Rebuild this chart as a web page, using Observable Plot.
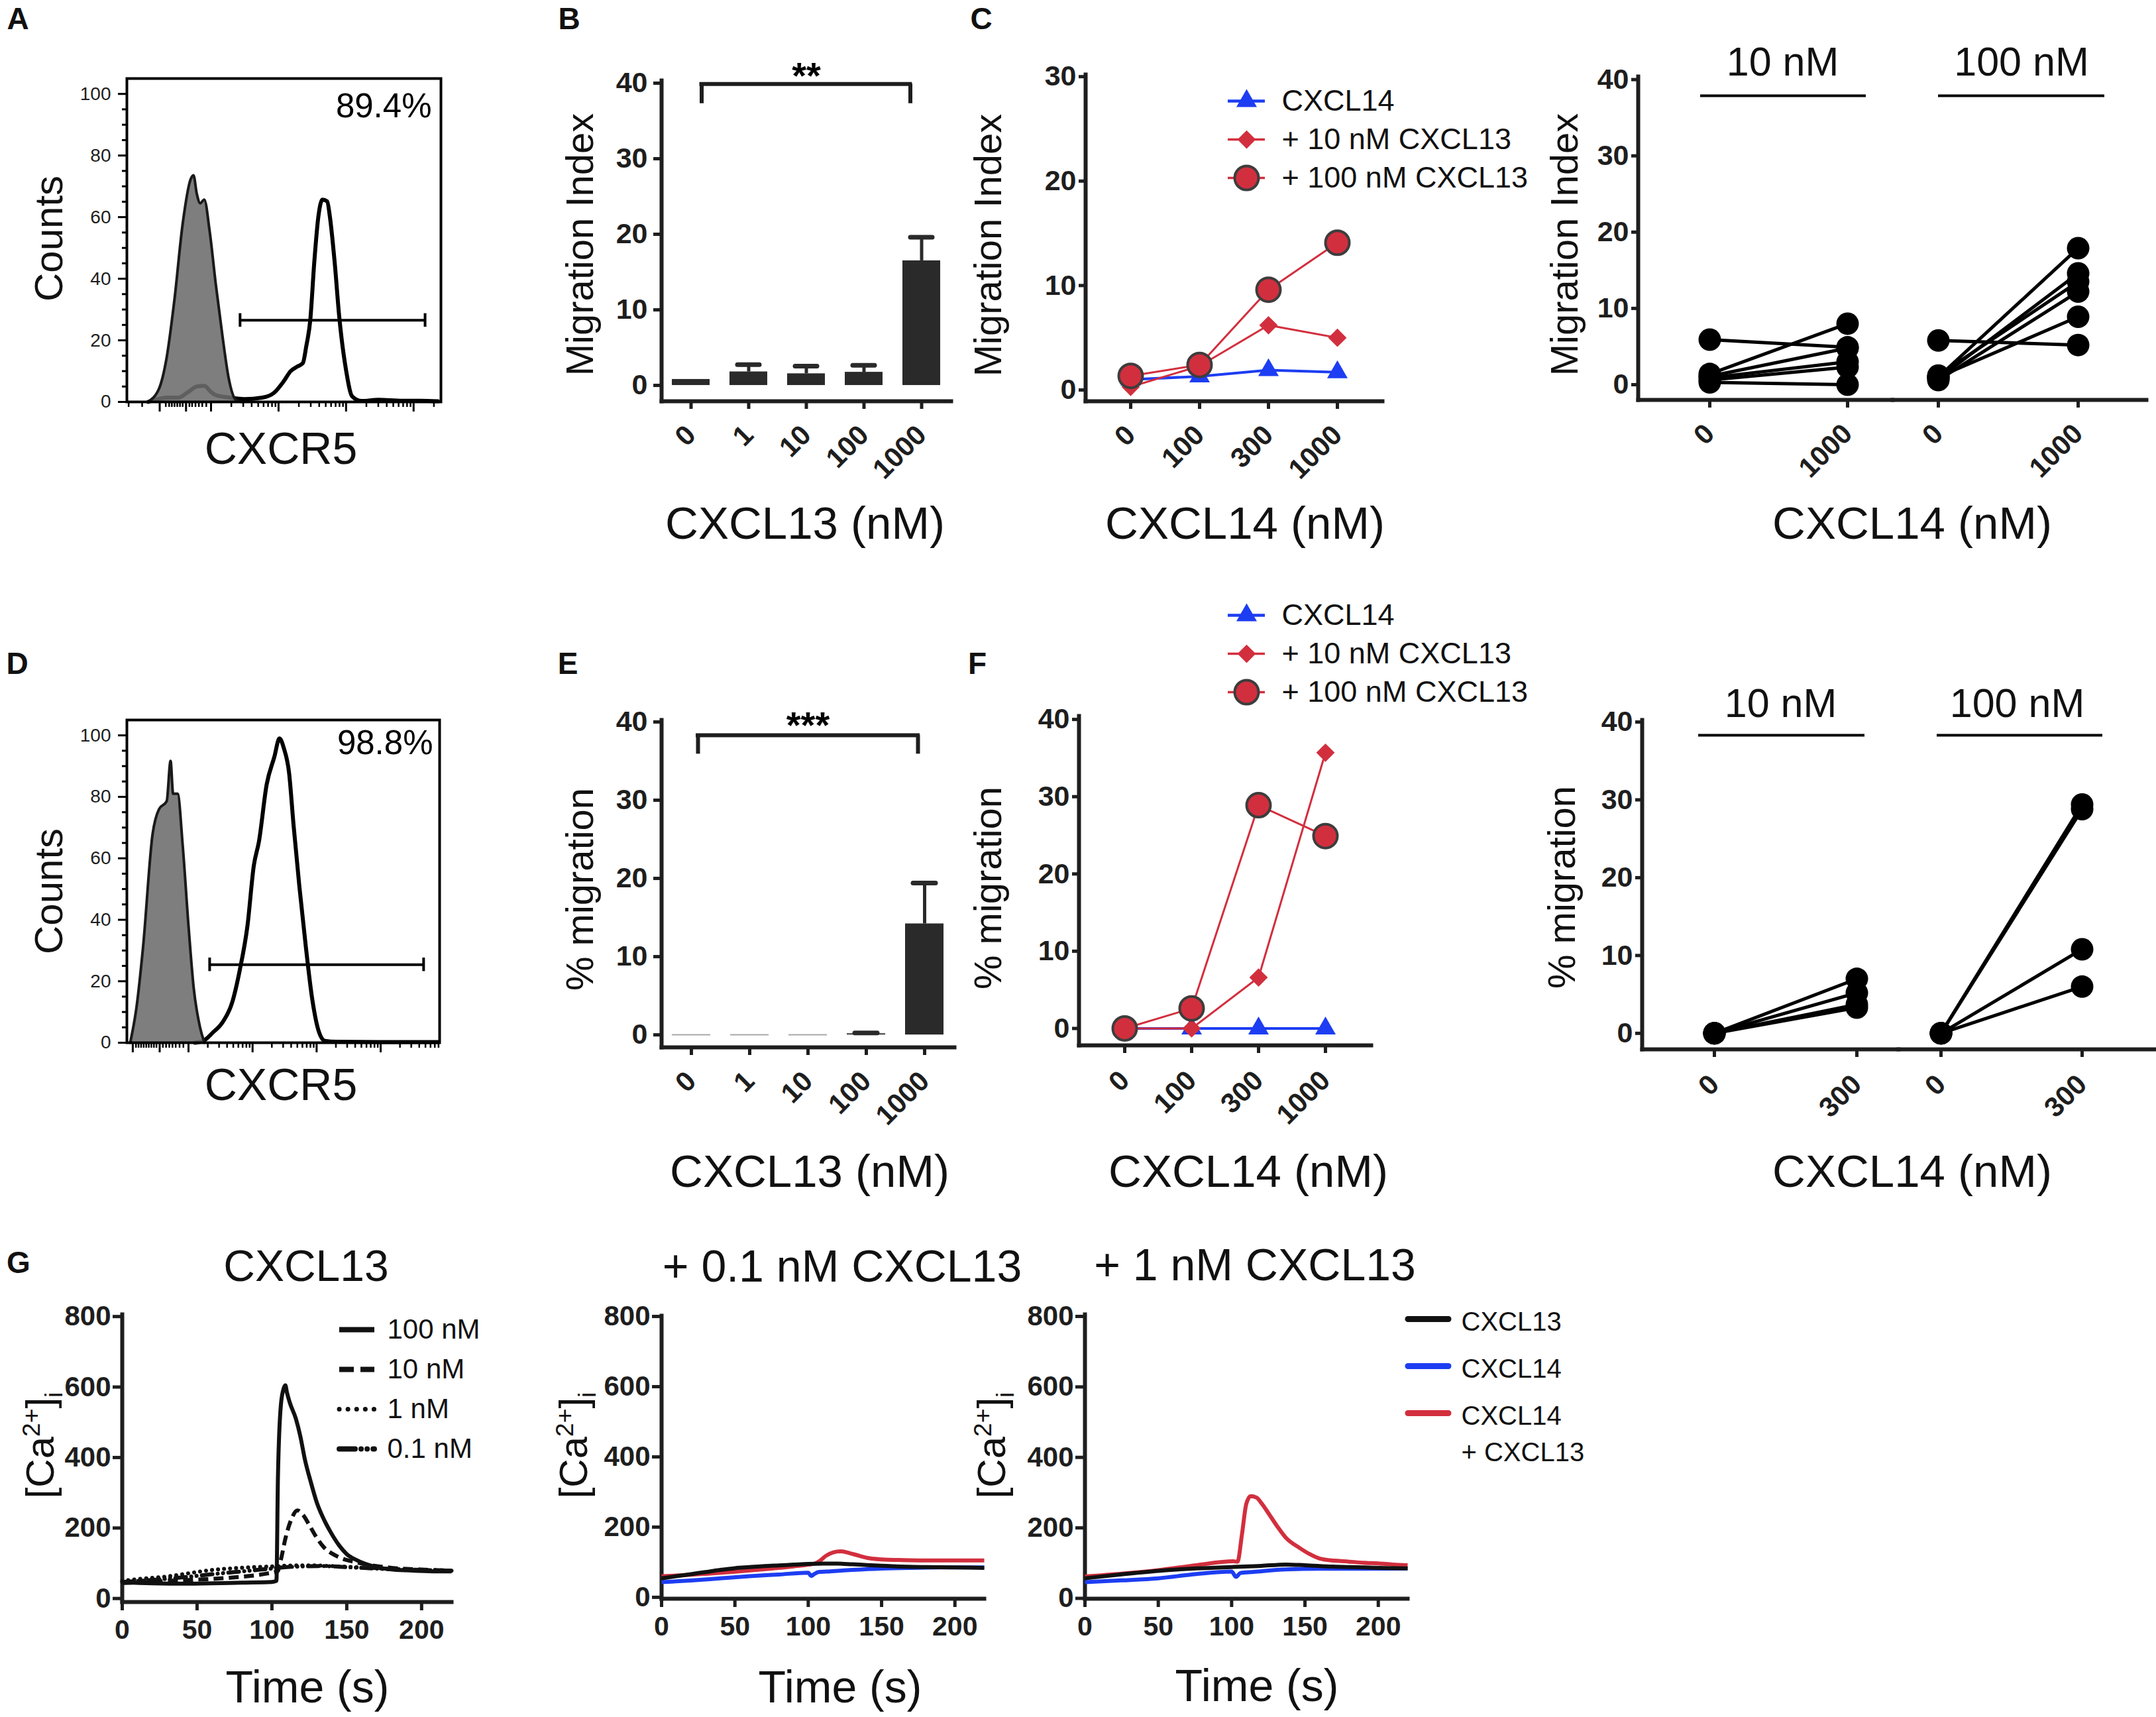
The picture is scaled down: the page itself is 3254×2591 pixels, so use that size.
<!DOCTYPE html>
<html><head><meta charset="utf-8">
<script src="https://cdn.jsdelivr.net/npm/d3@7"></script>
<script src="https://cdn.jsdelivr.net/npm/@observablehq/plot@0.6"></script>
<style>
html,body{margin:0;padding:0;background:#fff;}
#fig{position:relative;width:3254px;height:2591px;background:#fff;overflow:hidden;font-family:"Liberation Sans",Arial,Helvetica,sans-serif;color:#111;}
#fig svg{position:absolute;overflow:visible;}
.lbl{position:absolute;white-space:nowrap;line-height:1;}
.lbl sup,.lbl sub{font-size:0.62em;line-height:0;}
</style></head><body><div id="fig"></div>
<script>
// ================= DATA =================
// A / D : flow histograms (x = log10 fluorescence in decades, y = counts)
const histAIsotype = [[0.06,0],[0.23,4.3],[0.34,14],[0.46,33.5],[0.58,57.8],[0.70,72.4],[0.74,73.6],[0.79,67.5],[0.84,64.5],[0.90,65.7],[0.98,55.4],[1.07,38.3],[1.17,21.3],[1.26,7.9],[1.37,0.6],[1.45,0]];
const histACXCR5 = [[0.07,0],[0.35,1.4],[0.52,1.4],[0.66,3.2],[0.79,5.0],[0.90,5.2],[1.0,3.2],[1.07,2.2],[1.28,1.4],[1.49,0.9],[1.76,1.4],[1.93,2.9],[2.07,6.5],[2.18,10],[2.28,11.5],[2.36,12.6],[2.41,18],[2.47,26.6],[2.53,45.6],[2.59,60.2],[2.65,65.7],[2.72,65.1],[2.76,60.2],[2.83,45.6],[2.90,27.4],[3.0,10.3],[3.09,1.8],[3.23,0.3],[3.48,0.7],[3.83,0.4],[4.1,0.4],[4.36,0.2]];
const gatePctA = "89.4%";
const gateA = {x1: 1.43, x2: 4.17, y: 26.5};
const histDIsotype = [[0.09,0],[0.19,11.8],[0.29,31],[0.44,68],[0.54,76],[0.66,78.6],[0.72,91.7],[0.76,81],[0.83,81],[0.91,64],[1.0,38],[1.08,18],[1.18,5],[1.25,0]];
const histDCXCR5 = [[1.1,0],[1.23,0.6],[1.38,3.3],[1.53,6.6],[1.68,13],[1.80,23.6],[1.92,38],[2.02,57.7],[2.10,65.5],[2.22,84],[2.34,93],[2.42,99],[2.49,95.7],[2.57,87.8],[2.64,70.8],[2.73,51],[2.83,31.5],[2.93,14.4],[3.03,3.9],[3.13,0.6],[3.31,0.3],[4.0,0.2],[4.9,0.2]];
const gatePctD = "98.8%";
const gateD = {x1: 1.33, x2: 4.67, y: 25.4};
const countTicks = [0,20,40,60,80,100];
const countMinorTicks = [5,10,15,25,30,35,45,50,55,65,70,75,85,90,95];
const decadeTicksA = [0.24,0.63,1,2,3,4];
const clusterTicksA = [-0.22,-0.02,0.33,0.38,0.42,0.46,0.5,0.54,0.58,0.68,0.72,0.77,0.82,0.87,0.93];
const decadeTicksD = [0.13,0.55,1,2,3,4];
const clusterTicksD = [0.18,0.22,0.26,0.3,0.34,0.38,0.42,0.46,0.5,0.6,0.65,0.7,0.75,0.8,0.86,0.92];

// B / E : bars
const cxcl13Conc = ["0","1","10","100","1000"];
const migIndexMean = [0.8,1.8,1.55,1.75,16.5];
const migIndexSEM  = [0,0.95,1.0,0.9,3.1];
const sigB = "**";
const pctMigMean = [0,0,0,0.15,14.2];
const pctMigSEM  = [0,0,0,0.1,5.2];
const sigE = "***";

// C / F : dose response
const cxcl14Conc = ["0","100","300","1000"];
const seriesNames = ["CXCL14","+ 10 nM CXCL13","+ 100 nM CXCL13"];
const migC_CXCL14 = [1.0,1.3,1.9,1.7];
const migC_10nM   = [0.3,2.3,6.2,5.0];
const migC_100nM  = [1.35,2.4,9.6,14.1];
const pctF_CXCL14 = [0,0,0,0];
const pctF_10nM   = [0,0,6.6,35.7];
const pctF_100nM  = [0,2.6,28.9,24.9];

// C / F right : paired donors
const groupLabels = ["10 nM","100 nM"];
const pairConcC = ["0","1000"];
const pairsC10  = [[5.9,4.9],[1.4,8.0],[1.1,4.8],[0.9,3.0],[0.6,2.3],[0.3,0.0]];
const pairsC100 = [[5.8,5.2],[1.0,17.9],[0.8,14.6],[1.2,13.5],[0.6,12.2],[1.0,8.9]];
const pairConcF = ["0","300"];
const pairsF10  = [[0,7.0],[0,5.2],[0,3.7],[0,3.3]];
const pairsF100 = [[0,29.4],[0,28.8],[0,10.8],[0,6.0]];

// G : calcium traces [time s, [Ca2+]i]
const caDoses = ["100 nM","10 nM","1 nM","0.1 nM"];
const ca100 = [[0,46],[20,43],[40,42],[60,43],[80,45],[100,47],[103,50],[104,340],[106,550],[108,598],[109,605],[110,585],[112,555],[116,510],[119,460],[122,395],[126,330],[130,272],[135,222],[139,190],[145,150],[150,126],[156,110],[162,99],[170,89],[181,82],[195,79],[210,77],[220,77]];
const ca10  = [[0,44],[20,47],[40,52],[58,55],[80,62],[97,71],[104,78],[106,110],[109,170],[113,225],[117,250],[121,236],[125,208],[130,172],[135,144],[140,128],[145,117],[150,109],[156,103],[165,95],[180,87],[200,82],[220,79]];
const ca1   = [[0,50],[15,57],[29,62],[45,72],[58,80],[75,86],[88,89],[100,91],[110,93],[125,94],[140,92],[155,89],[170,86],[185,83],[200,81],[220,79]];
const ca01  = [[0,47],[15,51],[30,56],[45,62],[60,69],[75,75],[90,81],[100,85],[110,89],[120,91],[135,92],[150,89],[165,86],[180,83],[200,81],[220,79]];
const caSeries = ["CXCL13","CXCL14","CXCL14\n+ CXCL13"];
const mid13   = [[0,54],[10,60],[20,66],[30,72],[40,78],[50,83],[60,86],[70,89],[80,91],[90,93],[100,95],[110,96],[120,96],[130,94],[140,92],[150,90],[160,88],[180,86],[200,85],[220,84]];
const mid14   = [[0,43],[20,48],[40,54],[60,60],[80,65],[100,70],[102,61],[104,66],[107,72],[115,74],[130,78],[150,82],[170,84],[190,85],[220,85]];
const mid1413 = [[0,60],[15,63],[30,67],[50,73],[70,80],[90,88],[100,93],[105,97],[108,104],[112,118],[117,128],[122,131],[128,126],[135,118],[142,111],[150,108],[165,106],[185,105],[200,105],[220,105]];
const right13   = [[0,57],[25,68],[50,78],[76,85],[100,89],[120,92],[137,96],[150,94],[169,90],[190,88],[205,86],[220,85]];
const right14   = [[0,46],[25,51],[50,57],[76,69],[100,76],[103,61],[106,72],[115,75],[137,82],[160,84],[190,84],[220,85]];
const right1413 = [[0,62],[25,70],[50,80],[76,94],[101,105],[104,104],[107,180],[110,268],[113,290],[117,286],[120,272],[126,236],[131,205],[137,172],[146,144],[153,126],[160,113],[170,107],[178,105],[190,101],[200,99],[210,96],[220,94]];
const caTicksY = [0,200,400,600,800];
const timeTicks = [0,50,100,150,200];

// ================= LAYOUT / DRAWING =================
const FONT = '"Liberation Sans", Arial, Helvetica, sans-serif';
const INK = "#1e1e1e";
const RED = "#d22f3e";
const BLUE = "#1d3df2";
const fig = document.getElementById("fig");

function panel(frame, box, opts) {
  const [x0,y0,x1,y1] = frame, [bx0,by0,bx1,by1] = box;
  const svg = Plot.plot({
    width: bx1-bx0, height: by1-by0,
    marginLeft: x0-bx0, marginTop: y0-by0, marginRight: bx1-x1, marginBottom: by1-y1,
    style: {fontFamily: FONT, fontSize: "40px", color: INK, background: "transparent", overflow: "visible"},
    ...opts
  });
  svg.style.position = "absolute"; svg.style.left = bx0 + "px"; svg.style.top = by0 + "px";
  fig.appendChild(svg);
  return svg;
}
function label(html, cx, cy, size, o = {}) {
  const d = document.createElement("div");
  d.className = "lbl"; d.innerHTML = html;
  d.style.left = cx + "px"; d.style.top = cy + "px"; d.style.fontSize = size + "px";
  d.style.fontWeight = o.bold ? "bold" : "normal";
  d.style.transform = "translate(-50%,-50%)" + (o.rotate ? ` rotate(${o.rotate}deg)` : "");
  fig.appendChild(d);
}
const pts = (arr) => arr.map(([x, y]) => ({x, y}));
const logMinor = (lo, hi) => { const t = []; for (let k = 1; k <= 4; k++) for (let m = 2; m <= 9; m++) { const v = k + Math.log10(m); if (v > lo && v < hi) t.push(v); } return t; };

function prismAxes(yTicks, o = {}) {
  return [
    Plot.frame({anchor: "left", stroke: INK, strokeWidth: 6}),
    Plot.frame({anchor: "bottom", stroke: INK, strokeWidth: 6}),
    Plot.axisY({ticks: yTicks, tickSize: o.ySize ?? 12, tickPadding: o.yPad ?? 8, stroke: INK, strokeWidth: 5, fontSize: o.yFont ?? 43, fontWeight: "bold", label: null})
  ];
}
function rotatedX(pad = 32) {
  return Plot.axisX({tickSize: 12, tickRotate: -45, tickPadding: pad, stroke: INK, strokeWidth: 5, fontSize: 42, fontWeight: "bold", label: null});
}

// ---------- A & D histograms ----------
function histPanel(frame, box, xDom, iso, pos, gate, pct, pctD, majors, clusters) {
  const [lo, hi] = xDom;
  panel(frame, box, {
    x: {domain: xDom},
    y: {domain: [0, 105]},
    marks: [
      Plot.lineY(pts(pos), {x: "x", y: "y", stroke: "#000", strokeWidth: 6, curve: "monotone-x"}),
      Plot.areaY(pts(iso), {x: "x", y: "y", fill: "#6c6c6c", fillOpacity: 0.88, curve: "monotone-x"}),
      Plot.lineY(pts(iso), {x: "x", y: "y", stroke: "#1a1a1a", strokeWidth: 4, curve: "monotone-x"}),
      Plot.ruleY([gate], {y: "y", x1: "x1", x2: "x2", stroke: "#000", strokeWidth: 4}),
      Plot.ruleX([gate], {x: "x1", y1: d => d.y - 2.2, y2: d => d.y + 2.2, stroke: "#000", strokeWidth: 4}),
      Plot.ruleX([gate], {x: "x2", y1: d => d.y - 2.2, y2: d => d.y + 2.2, stroke: "#000", strokeWidth: 4}),
      Plot.text([{t: pct}], {text: "t", frameAnchor: "top-right", textAnchor: "end", lineAnchor: "top", dx: pctD[0], dy: pctD[1], fontSize: 51, fill: "#000"}),
      Plot.frame({stroke: "#000", strokeWidth: 4}),
      Plot.axisY({ticks: countTicks, tickSize: 13, tickPadding: 11, fontSize: 28, stroke: "#000", strokeWidth: 3, label: null}),
      Plot.axisY({ticks: countMinorTicks, tickSize: 7, tickFormat: () => "", stroke: "#000", strokeWidth: 3, label: null}),
      Plot.axisX({ticks: majors.filter(v => v > lo && v < hi), tickSize: 15, tickFormat: () => "", stroke: "#000", strokeWidth: 3, label: null}),
      Plot.axisX({ticks: clusters.concat(logMinor(lo, hi)).filter(v => v > lo && v < hi), tickSize: 8, tickFormat: () => "", stroke: "#000", strokeWidth: 2.5, label: null})
    ]
  });
}
histPanel([191,118,665,606], [100,80,700,660], [-0.246, 4.405], histAIsotype, histACXCR5, gateA, gatePctA, [-14, 22], decadeTicksA, clusterTicksA);
histPanel([191,1086,663,1573], [100,1050,700,1630], [0.038, 4.92], histDIsotype, histDCXCR5, gateD, gatePctD, [-10, 15], decadeTicksD, clusterTicksD);

// ---------- B & E bars ----------
function barPanel(frame, box, yDom, means, sems, pi, po, sig, br) {
  const data = cxcl13Conc.map((c, i) => ({c, v: means[i], e: sems[i]}));
  const withErr = data.filter(d => d.e > 0);
  const zero = data.filter(d => d.v === 0);
  const s = {from: cxcl13Conc[0], to: cxcl13Conc[cxcl13Conc.length - 1], level: br.level, foot: br.foot, stars: sig};
  panel(frame, box, {
    x: {type: "band", domain: cxcl13Conc, paddingInner: pi, paddingOuter: po},
    y: {domain: yDom},
    marks: [
      Plot.barY(data.filter(d => d.v > 0), {x: "c", y1: 0, y2: "v", fill: "#2a2a2a"}),
      Plot.tickY(zero, {x: "c", y: "v", stroke: "#a8a8a8", strokeWidth: 2}),
      Plot.ruleX(withErr, {x: "c", y1: "v", y2: d => d.v + d.e, stroke: "#2a2a2a", strokeWidth: 5}),
      Plot.tickY(withErr, {x: "c", y: d => d.v + d.e, stroke: "#2a2a2a", strokeWidth: 7, insetLeft: 12, insetRight: 12, strokeLinecap: "round"}),
      Plot.ruleY([s], {y: "level", x1: "from", x2: "to", stroke: INK, strokeWidth: 6, insetLeft: br.il, insetRight: br.ir, strokeLinecap: "square"}),
      Plot.ruleX([s], {x: "from", y1: "foot", y2: "level", stroke: INK, strokeWidth: 6, dx: br.dl}),
      Plot.ruleX([s], {x: "to", y1: "foot", y2: "level", stroke: INK, strokeWidth: 6, dx: br.dr}),
      Plot.text([s], {text: "stars", frameAnchor: "top", lineAnchor: "bottom", dy: br.tdy, fontSize: 56, fontWeight: "bold", fill: "#000"}),
      ...prismAxes([0,10,20,30,40], {ySize: 12, yPad: 9}),
      rotatedX(32)
    ]
  });
}
barPanel([998,121,1435,605], [880,40,1480,740], [-2.1, 40.35], migIndexMean, migIndexSEM, 0.35, 0.164, sigB,
  {level: 39.9, foot: 37.3, il: 44.5, ir: 45.7, dl: 16, dr: -17, tdy: 11});
barPanel([998,1086,1440,1580], [880,1030,1480,1720], [-1.6, 40.25], pctMigMean, pctMigSEM, 0.34, 0.181, sigE,
  {level: 38.3, foot: 35.9, il: 39, ir: 39, dl: 10, dr: -10, tdy: 26});

// ---------- C & F dose response ----------
const symStyle = [
  {name: seriesNames[0], color: BLUE, symbol: "triangle", r: 11.5, lw: 4},
  {name: seriesNames[1], color: RED, symbol: "diamond2", r: 12.5, lw: 3},
  {name: seriesNames[2], color: RED, symbol: "circle", r: 18, lw: 3, stroke: "#3d3d3d", sw: 4}
];
function dosePanel(frame, box, yDom, yTicks, pad, series, tpad) {
  const rows = series.map(vals => cxcl14Conc.map((c, i) => ({c, v: vals[i]})));
  panel(frame, box, {
    x: {type: "point", domain: cxcl14Conc, padding: pad},
    y: {domain: yDom},
    marks: [
      ...prismAxes(yTicks, {ySize: 10, yPad: 4}),
      rotatedX(tpad),
      ...rows.map((r, k) => Plot.line(r, {x: "c", y: "v", stroke: symStyle[k].color, strokeWidth: symStyle[k].lw})),
      ...rows.map((r, k) => Plot.dot(r, {x: "c", y: "v", symbol: symStyle[k].symbol, r: symStyle[k].r, fill: symStyle[k].color,
        stroke: symStyle[k].stroke ?? "none", strokeWidth: symStyle[k].sw ?? 0}))
    ]
  });
}
dosePanel([1638,112,2086,605], [1540,40,2100,740], [-1.08, 30.2], [0,10,20,30], 0.647, [migC_CXCL14, migC_10nM, migC_100nM], 32);
dosePanel([1628,1080,2069,1577], [1530,1000,2090,1720], [-2.19, 40.44], [0,10,20,30,40], 0.683, [pctF_CXCL14, pctF_10nM, pctF_100nM], 34);

function legendSym(frame, box) {
  panel(frame, box, {
    y: {type: "point", domain: seriesNames, padding: 0, axis: null},
    marks: [
      ...symStyle.map(s => Plot.tickY([s], {y: "name", stroke: s.color, strokeWidth: s.lw + 0.5})),
      ...symStyle.map(s => Plot.dot([s], {y: "name", symbol: s.symbol, r: s.r, fill: s.color, stroke: s.stroke ?? "none", strokeWidth: s.sw ?? 0})),
      Plot.text(symStyle, {y: "name", text: "name", frameAnchor: "right", textAnchor: "start", dx: 25, fontSize: 45, fill: "#111"})
    ]
  });
}
legendSym([1853,151,1909,268], [1820,110,2400,310]);
legendSym([1853,927.5,1909,1044], [1820,885,2400,1085]);

// ---------- C & F right : paired donors ----------
function pairPanel(frame, box, yDom, concs, pairs, grp, o) {
  const rows = pairs.flatMap((p, i) => [{d: i, c: concs[0], v: p[0]}, {d: i, c: concs[1], v: p[1]}]);
  const ul = {from: concs[0], to: concs[1], top: yDom[1], label: grp};
  panel(frame, box, {
    x: {type: "point", domain: concs, padding: 0, insetLeft: o.ins[0], insetRight: o.ins[1]},
    y: {domain: yDom, axis: o.yAxis ? undefined : null},
    marks: [
      ...(o.yAxis ? prismAxes([0,10,20,30,40], {ySize: 10, yPad: 4}) : [Plot.frame({anchor: "bottom", stroke: INK, strokeWidth: 6})]),
      rotatedX(o.tpad),
      Plot.line(rows, {x: "c", y: "v", z: "d", stroke: "#000", strokeWidth: 5}),
      Plot.dot(rows, {x: "c", y: "v", r: 17, fill: "#000"}),
      Plot.ruleY([ul], {y: "top", x1: "from", x2: "to", dy: o.ulDy, insetLeft: o.ulIns[0], insetRight: o.ulIns[1], stroke: "#000", strokeWidth: 4}),
      Plot.text([ul], {text: "label", frameAnchor: "top", lineAnchor: "middle", dx: o.ldx, dy: o.ldy, fontSize: 61, fill: "#111"})
    ]
  });
}
pairPanel([2472,115,2856,603], [2380,30,2856,740], [-2.0, 40.4], pairConcC, pairsC10, groupLabels[0],
  {yAxis: true, ins: [108, 68], ulDy: 29, ulIns: [-14, -28], ldx: 26, ldy: -21.5, tpad: 32});
pairPanel([2856,115,3239,603], [2856,30,3254,740], [-2.0, 40.4], pairConcC, pairsC100, groupLabels[1],
  {yAxis: false, ins: [69, 103], ulDy: 29, ulIns: [0, -40], ldx: 3, ldy: -21.5, tpad: 32});
pairPanel([2478,1086,2865,1583], [2380,1000,2865,1720], [-2.06, 40.26], pairConcF, pairsF10, groupLabels[0],
  {yAxis: true, ins: [109, 63], ulDy: 23, ulIns: [-24, -12], ldx: 15.5, ldy: -24.5, tpad: 34});
pairPanel([2865,1086,3251,1583], [2865,1000,3254,1720], [-2.06, 40.26], pairConcF, pairsF100, groupLabels[1],
  {yAxis: false, ins: [64, 109], ulDy: 23, ulIns: [-6, -31], ldx: -14, ldy: -24.5, tpad: 34});

// ---------- G calcium ----------
const tv = (arr) => arr.map(([t, v]) => ({t, v}));
function caPanel(frame, box, yDom, lines) {
  panel(frame, box, {
    x: {domain: [0, 220]},
    y: {domain: yDom},
    marks: [
      Plot.frame({anchor: "left", stroke: INK, strokeWidth: 6}),
      Plot.frame({anchor: "bottom", stroke: INK, strokeWidth: 6}),
      Plot.axisY({ticks: caTicksY, tickSize: 14, tickPadding: 3, stroke: INK, strokeWidth: 5, fontSize: 42, fontWeight: "bold", label: null}),
      Plot.axisX({ticks: timeTicks, tickSize: 13, tickPadding: 13, stroke: INK, strokeWidth: 5, fontSize: 41, fontWeight: "bold", label: null}),
      ...lines.map(l => Plot.line(tv(l.data), {x: "t", y: "v", stroke: l.color, strokeWidth: l.w ?? 6, strokeDasharray: l.dash, strokeLinecap: l.cap ?? "butt", curve: "monotone-x"}))
    ]
  });
}
const doseStyle = [
  {color: "#111", dash: null, w: 6, lw: 8, ldash: null, cap: "butt"},
  {color: "#111", dash: "15,8", w: 6, lw: 8, ldash: "22,10", cap: "butt"},
  {color: "#111", dash: "0.1,9", w: 6, lw: 7, ldash: "0.1,13", cap: "round"},
  {color: "#111", dash: "16,8,0.1,8,0.1,8", w: 6, lw: 8, ldash: "24,9,0.1,9,0.1,9", cap: "round"}
];
const doseData = [ca100, ca10, ca1, ca01];
caPanel([184,1983,681,2417], [80,1950,700,2500], [-10, 806],
  [3,2,1,0].map(k => ({data: doseData[k], color: doseStyle[k].color, dash: doseStyle[k].dash, w: doseStyle[k].w, cap: doseStyle[k].cap})));
caPanel([998,1985,1485,2412], [890,1950,1500,2500], [-4, 802],
  [{data: mid14, color: BLUE}, {data: mid1413, color: RED}, {data: mid13, color: "#111"}]);
caPanel([1637,1983,2124,2412], [1530,1950,2140,2500], [-1, 805.6],
  [{data: right14, color: BLUE}, {data: right1413, color: RED}, {data: right13, color: "#111"}]);

// G legends
panel([512,2005,565,2187], [480,1970,820,2225], {
  y: {type: "point", domain: caDoses, padding: 0, axis: null},
  marks: [
    ...caDoses.map((n, k) => Plot.tickY([{n}], {y: "n", stroke: "#111", strokeWidth: doseStyle[k].lw, strokeDasharray: doseStyle[k].ldash, strokeLinecap: doseStyle[k].cap})),
    Plot.text(caDoses, {y: d => d, text: d => d, frameAnchor: "right", textAnchor: "start", dx: 19, fontSize: 42, fill: "#111"})
  ]
});
const caColors = ["#111", BLUE, RED];
panel([2125,1990,2186,2132], [2100,1955,2500,2230], {
  y: {type: "point", domain: caSeries, padding: 0, axis: null},
  marks: [
    ...caSeries.map((n, k) => Plot.tickY([{n}], {y: "n", stroke: caColors[k], strokeWidth: 9, strokeLinecap: "round"})),
    Plot.text(caSeries, {y: d => d, text: d => d, frameAnchor: "right", textAnchor: "start", lineAnchor: "top", dx: 19, dy: -22, lineHeight: 1.375, fontSize: 40, fill: "#111"})
  ]
});

// ---------- free text: panel letters, titles, axis labels ----------
[["A",27,28],["B",859,28],["C",1481,28],["D",26,1001],["E",857,1001],["F",1475,1001],["G",28,1905]]
  .forEach(([t, x, y]) => label(t, x, y, 46, {bold: true}));
label("Counts", 74, 360, 60, {rotate: -90});
label("Counts", 74, 1345, 60, {rotate: -90});
label("CXCR5", 424, 676, 68);
label("CXCR5", 424, 1636, 68);
label("Migration Index", 875, 369, 58, {rotate: -90});
label("Migration Index", 1491, 370, 58, {rotate: -90});
label("Migration Index", 2361, 369, 58, {rotate: -90});
label("% migration", 875, 1342, 58, {rotate: -90});
label("% migration", 1491, 1340, 58, {rotate: -90});
label("% migration", 2357, 1339, 58, {rotate: -90});
label("CXCL13 (nM)", 1215, 789, 69);
label("CXCL13 (nM)", 1222, 1767, 69);
label("CXCL14 (nM)", 1879, 789, 69);
label("CXCL14 (nM)", 2886, 789, 69);
label("CXCL14 (nM)", 1884, 1767, 69);
label("CXCL14 (nM)", 2886, 1767, 69);
label("CXCL13", 462, 1910, 66);
label("+ 0.1 nM CXCL13", 1271, 1910, 68);
label("+ 1 nM CXCL13", 1894, 1908, 68);
label("Time (s)", 464, 2545, 68);
label("Time (s)", 1268, 2545, 68);
label("Time (s)", 1897, 2543, 68);
const caLabel = "[Ca<sup>2+</sup>]<sub>i</sub>";
label(caLabel, 61, 2181, 60, {rotate: -90});
label(caLabel, 866, 2181, 60, {rotate: -90});
label(caLabel, 1497, 2181, 60, {rotate: -90});
</script></body></html>
